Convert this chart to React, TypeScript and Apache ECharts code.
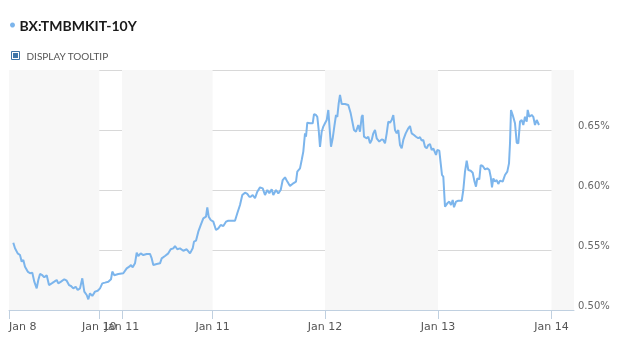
import React, { useEffect, useRef } from "react";
import * as echarts from "echarts";

const title = "BX:TMBMKIT-10Y";
const tooltipLabel = "DISPLAY TOOLTIP";

// x positions (chart time units) and yields (%)
const times = [
  4.3, 6, 8.7, 11, 12.7, 14.3, 16, 18.7, 21, 23.3, 25.3, 27.7, 29.3, 31, 33.3, 35.3, 37.7, 40, 42.7, 45.3,
  47.7, 49.3, 52, 55.3, 57.7, 60, 62, 64.3, 66.7, 68.7, 71, 73.3, 75.3, 77.7, 79.3, 81, 83.3, 86, 88.7, 91,
  93.3, 96, 99.3, 102, 103.3, 105.3, 109.3, 114.3, 117.7, 120.3, 122, 123.7, 126, 127.7, 129.3, 131.7, 134.3,
  137.7, 141, 142.7, 144.3, 147.7, 151, 152.7, 156, 159.3, 161.7, 164.3, 166, 168.3, 171, 174.3, 177.7, 181,
  183.7, 185, 187, 189.3, 191.7, 194.3, 197, 198.3, 199.7, 201.7, 204.3, 207, 209.3, 211.7, 214.3, 217, 219.3,
  222.7, 226, 228.3, 231, 233.3, 236, 238.3, 240.3, 241.7, 243.7, 246, 248.3, 251, 253.7, 256, 258.3, 260.3,
  262.7, 264.3, 267, 269.3, 271.7, 273.7, 276, 278.3, 281, 284.3, 287, 288.3, 291, 292.7, 294.3, 296, 297,
  298.3, 301, 303.7, 305, 307, 308.3, 309.7, 311, 312.7, 314.3, 316, 317.7, 319.3, 321, 322, 323.7, 325.3,
  327, 328.3, 329.7, 331, 332.7, 336, 339.3, 341.7, 345, 347, 349.3, 351, 352.7, 353.7, 355, 357.7, 359.3,
  361, 362.7, 364.3, 366, 367.7, 370.3, 372.7, 374.3, 376, 377.7, 379.3, 381, 382.7, 384.3, 386, 387.7,
  389.3, 391, 392.7, 394.3, 396.7, 399.3, 401, 402.7, 405, 407, 409.3, 411, 412.7, 414.3, 416, 417.7, 419.3,
  421, 422.7, 424.3, 427, 428.3, 430.3, 431.7, 433, 434.3, 436, 438.3, 440.3, 442, 443.7, 445, 447, 449.3,
  452.7, 454.3, 456, 457.7, 459.3, 461.7, 463.7, 465.3, 467, 468.3, 470.3, 471.7, 473.7, 476, 478.3, 480.3,
  481.7, 483, 484.3, 486, 487.7, 489.3, 491, 493.7, 496, 498.3, 500, 501, 502, 503.7, 506, 507.7, 509.3, 511,
  512.7, 514.3, 516, 517.7, 518.7, 520.3, 522.7, 524.3, 526, 527.7, 530,
];

const yields = [
  0.5561, 0.5514, 0.5472, 0.5458, 0.5403, 0.5417, 0.5361, 0.532, 0.5306, 0.531, 0.5236, 0.518, 0.525, 0.53,
  0.529, 0.5272, 0.529, 0.5208, 0.5222, 0.5236, 0.525, 0.5222, 0.5236, 0.5256, 0.5244, 0.5208, 0.52, 0.518,
  0.5194, 0.5167, 0.518, 0.5264, 0.5153, 0.5125, 0.5089, 0.5139, 0.5117, 0.5153, 0.516, 0.518, 0.5222,
  0.5228, 0.5236, 0.5256, 0.532, 0.529, 0.53, 0.5306, 0.5347, 0.5361, 0.5375, 0.5356, 0.5389, 0.5478, 0.545,
  0.5472, 0.5458, 0.5467, 0.5467, 0.543, 0.5375, 0.5383, 0.5389, 0.543, 0.545, 0.5472, 0.5506, 0.5514,
  0.5533, 0.5506, 0.5514, 0.5494, 0.5506, 0.5472, 0.5514, 0.557, 0.5578, 0.5653, 0.5708, 0.5764, 0.5778,
  0.5856, 0.5778, 0.575, 0.5736, 0.5667, 0.568, 0.5708, 0.57, 0.5736, 0.5744, 0.5744, 0.5744, 0.5806,
  0.5875, 0.5958, 0.5978, 0.5967, 0.5944, 0.5944, 0.5958, 0.5931, 0.5986, 0.6022, 0.6014, 0.5958, 0.6,
  0.5972, 0.6006, 0.5958, 0.6, 0.5972, 0.6, 0.6083, 0.6106, 0.607, 0.6033, 0.6056, 0.607, 0.6153, 0.618,
  0.625, 0.632, 0.6472, 0.6444, 0.6561, 0.6556, 0.6556, 0.6633, 0.6625, 0.661, 0.65, 0.636, 0.6486, 0.6528,
  0.6556, 0.6583, 0.6667, 0.6472, 0.636, 0.6431, 0.6528, 0.6625, 0.661, 0.6722, 0.6792, 0.6717, 0.6717,
  0.6708, 0.6639, 0.65, 0.6486, 0.6542, 0.6486, 0.661, 0.6625, 0.6444, 0.6431, 0.6444, 0.6389, 0.6417,
  0.6472, 0.65, 0.6431, 0.6403, 0.6422, 0.6417, 0.6389, 0.6472, 0.657, 0.6561, 0.6583, 0.6625, 0.65, 0.6472,
  0.65, 0.6375, 0.6347, 0.6417, 0.6472, 0.6514, 0.6533, 0.6472, 0.6458, 0.6444, 0.6431, 0.644, 0.6411,
  0.6417, 0.636, 0.6347, 0.6375, 0.6383, 0.6333, 0.6347, 0.6292, 0.6333, 0.6328, 0.6222, 0.6125, 0.6111,
  0.5861, 0.5889, 0.5903, 0.5875, 0.5917, 0.5856, 0.5903, 0.591, 0.591, 0.6, 0.6153, 0.6244, 0.6167, 0.6161,
  0.6144, 0.6078, 0.6028, 0.6097, 0.6089, 0.6208, 0.62, 0.6172, 0.618, 0.6167, 0.6111, 0.6022, 0.6097,
  0.607, 0.6083, 0.605, 0.6078, 0.607, 0.6125, 0.6153, 0.6222, 0.6389, 0.6667, 0.6625, 0.6556, 0.6394,
  0.6389, 0.657, 0.6583, 0.6542, 0.661, 0.657, 0.6667, 0.661, 0.6625, 0.661, 0.6542, 0.6583, 0.6542,
];

const tickValues = [0, 90.3, 113, 203.6, 316, 429, 542.5];
const tickLabels = ["Jan 8", "Jan 10", "Jan 11", "Jan 11", "Jan 12", "Jan 13", "Jan 14"];
const xMin = 0;
const xMax = 565;
const yMin = 0.5;
const yMax = 0.7;
const yStep = 0.05;

export default function App() {
  const ref = useRef<HTMLDivElement>(null);

  useEffect(() => {
    if (!ref.current) return;
    const chart = echarts.init(ref.current, undefined, { renderer: "svg" });

    const bands: any[] = [];
    const edges = [...tickValues, xMax];
    for (let i = 0; i < edges.length - 1; i += 2) {
      bands.push([{ xAxis: edges[i] }, { xAxis: edges[i + 1] }]);
    }

    chart.setOption({
      animation: false,
      grid: { left: 9, right: 46, top: 70, bottom: 29 },
      graphic: [
        { type: "circle", shape: { cx: 12.5, cy: 25, r: 2.5 }, style: { fill: "#7cb5ec" } },
        {
          type: "text",
          x: 19.5,
          y: 25,
          style: {
            text: title,
            font: "bold 14px Lato",
            fill: "#1a1a1a",
            verticalAlign: "middle",
          },
        },
        {
          type: "rect",
          shape: { x: 11.5, y: 51.5, width: 8, height: 8 },
          style: { fill: "#fff", stroke: "#3f75a8", lineWidth: 1 },
        },
        {
          type: "rect",
          shape: { x: 13, y: 53, width: 5, height: 5 },
          style: { fill: "#3f75a8" },
        },
        {
          type: "text",
          x: 26.5,
          y: 56,
          style: {
            text: tooltipLabel,
            font: "10px Lato",
            fill: "#555",
            verticalAlign: "middle",
          },
        },
      ],
      xAxis: {
        type: "value",
        min: xMin,
        max: xMax,
        axisLine: { show: true, lineStyle: { color: "#c0d0e0", width: 1 } },
        axisTick: {
          show: true,
          customValues: tickValues,
          length: 9,
          lineStyle: { color: "#c0d0e0" },
        },
        axisLabel: {
          customValues: tickValues,
          formatter: (v: number) => {
            const i = tickValues.indexOf(v);
            return i >= 0 ? tickLabels[i] : "";
          },
          alignMinLabel: "left",
          color: "#555",
          fontFamily: "DejaVu Sans",
          fontSize: 11,
          margin: 11,
        },
        splitLine: { show: false },
      },
      yAxis: {
        type: "value",
        position: "right",
        min: yMin,
        max: yMax,
        interval: yStep,
        axisLine: { show: false },
        axisTick: { show: false },
        axisLabel: {
          formatter: (v: number) => v.toFixed(2) + "%",
          showMaxLabel: false,
          color: "#666",
          fontFamily: "DejaVu Sans",
          fontSize: 10,
          margin: 4,
          verticalAlign: "bottom",
        },
        splitLine: { show: true, lineStyle: { color: "#d8d8d8", width: 1 } },
      },
      series: [
        {
          type: "line",
          data: times.map((t, i) => [t, yields[i]]),
          showSymbol: false,
          lineStyle: { color: "#7cb5ec", width: 2 },
          itemStyle: { color: "#7cb5ec" },
          z: 3,
          markArea: {
            silent: true,
            itemStyle: { color: "#f7f7f7" },
            data: bands,
          },
        },
      ],
    });

    return () => chart.dispose();
  }, []);

  return (
    <div
      ref={ref}
      style={{ position: "fixed", left: 0, top: 0, width: 620, height: 339 }}
    />
  );
}
